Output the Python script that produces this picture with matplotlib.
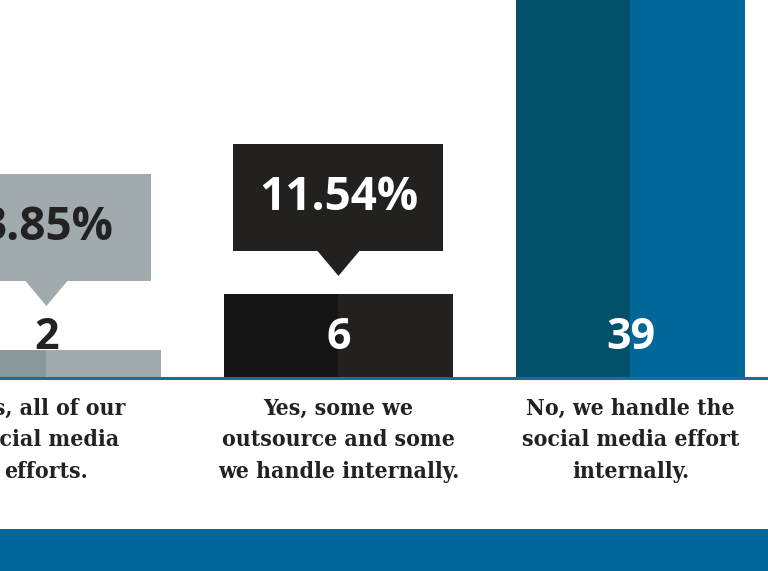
import matplotlib
matplotlib.use("Agg")
import matplotlib.pyplot as plt
from matplotlib.patches import Rectangle, Polygon

categories = ["Yes, all of our\nsocial media\nefforts.",
              "Yes, some we\noutsource and some\nwe handle internally.",
              "No, we handle the\nsocial media effort\ninternally."]
counts = [2, 6, 39]
pct_labels = ["3.85%", "11.54%", "75%"]

dark_cols = ["#8a979b", "#161515", "#02506a"]
light_cols = ["#a1abad", "#222120", "#016698"]
num_cols = ["#222222", "white", "white"]
pct_text_cols = ["#222222", "white", "white"]

blue = "#016698"

fig = plt.figure(figsize=(7.68, 5.71), dpi=100)
ax = fig.add_axes([0, (571 - 378) / 571, 1, 378 / 571])

x = list(range(len(counts)))
w = 0.784
ax.bar(x, counts, width=-w / 2, align="edge", color=dark_cols, linewidth=0)
ax.bar(x, counts, width=w / 2, align="edge", color=light_cols, linewidth=0)

ax.set_xlim(-0.159, 2.471)
ax.set_ylim(0, 27)
ax.set_xticks([])
ax.set_yticks([])
for s in ["top", "left", "right"]:
    ax.spines[s].set_visible(False)
ax.spines["bottom"].set_color("#1a6c9e")
ax.spines["bottom"].set_linewidth(2.2)

num_font = dict(family="Open Sans", weight="bold")
label_top = 3.85
box_w, box_h, tri_h, tri_hw = 0.719, 7.64, 1.79, 0.072
for xi, v, p, dc, lc, nc, pc in zip(x, counts, pct_labels, dark_cols, light_cols,
                                    num_cols, pct_text_cols):
    ax.text(xi, 2.86, str(v), ha="center", va="center", fontsize=31,
            color=nc, clip_on=True, **num_font)
    tip = max(v, label_top) + 1.29
    ax.add_patch(Polygon([(xi - tri_hw, tip + tri_h), (xi + tri_hw, tip + tri_h),
                          (xi, tip)], closed=True, color=lc, linewidth=0))
    ax.add_patch(Rectangle((xi - box_w / 2, tip + tri_h), box_w, box_h,
                           color=lc, linewidth=0))
    ax.text(xi, tip + tri_h + box_h / 2, p, ha="center", va="center",
            fontsize=33, color=pc, clip_on=True, **num_font)

for xi, c in zip(x, categories):
    ax.annotate(c, (xi, 0), xytext=(0, -20), textcoords="offset pixels",
                ha="center", va="top", fontsize=16.5, color="#222222",
                family="DejaVu Serif", weight="bold", fontstretch="condensed",
                linespacing=1.55, annotation_clip=False)

fig.add_artist(Rectangle((0, 0), 1, (571 - 529) / 571, transform=fig.transFigure,
                         color=blue, linewidth=0))

fig.savefig("out.png", dpi=100)
